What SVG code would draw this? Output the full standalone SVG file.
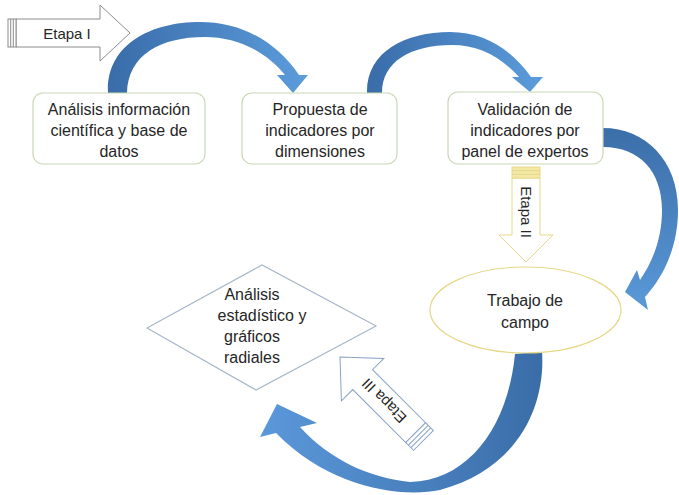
<svg xmlns="http://www.w3.org/2000/svg" width="679" height="495" viewBox="0 0 679 495">
<defs>
<linearGradient id="gH" x1="0" y1="0" x2="1" y2="0"><stop offset="0" stop-color="#396ca9"/><stop offset="1" stop-color="#5c9cdb"/></linearGradient>
<linearGradient id="gV" x1="0" y1="0" x2="0" y2="1"><stop offset="0" stop-color="#3b6ea9"/><stop offset="1" stop-color="#5a99d8"/></linearGradient>
<linearGradient id="gR" x1="1" y1="0" x2="0" y2="0"><stop offset="0" stop-color="#3a6da8"/><stop offset="1" stop-color="#5b98da"/></linearGradient>
</defs>
<style>
.box{fill:#fff;stroke:#c9d8b6;stroke-width:1.2}
.t{font-family:"Liberation Sans",Arial,sans-serif;font-size:16px;fill:#262626;text-anchor:middle}
.et{font-family:"Liberation Sans",Arial,sans-serif;font-size:15px;fill:#262626;text-anchor:middle}
.ga{fill:#fff;stroke:#8c8c8c;stroke-width:1}
.ya{fill:#fff;stroke:#e6d88a;stroke-width:1}
.ys{fill:#f3e9a6;stroke:#e6d88a;stroke-width:1}
.ba{fill:#fff;stroke:#8aa3c4;stroke-width:1}
</style>
<rect width="679" height="495" fill="#fff"/>
<g id="connectors">
<path fill="url(#gH)" d="M108,93 C106,45 150,22 200,22 C240,22 275,40 299,75 L308,75 L293,93 L277,75 L285,75 C265,50 235,37 205,37 C160,37 128,55 127,93 Z"/>
<path fill="url(#gH)" d="M367,93 C366,52 405,32 450,32 C485,32 512,50 531,77 L543,77 L530,92 L512,77 L519,77 C500,56 478,45 452,45 C410,45 382,62 382,93 Z"/>
<path fill="url(#gV)" d="M603,128 C645,128 678,160 678,210 C678,245 665,275 645,297 L648,310 L625,292 L637,270 L640,280 C655,258 662,235 662,210 C662,172 640,147 603,147 Z"/>
<path fill="url(#gR)" d="M515,354 L542,351 C546,410 515,470 440,490 C400,498 330,488 276,433 L260,437 L277,404 L317,423 L300,427 C330,460 370,478 410,482 C470,480 508,425 515,354 Z"/>
</g>
<g id="etapa1" transform="translate(130,33)">
<polygon class="ga" points="0,0 -30,-28 -30,-14 -114,-14 -114,14 -30,14 -30,28"/>
<rect class="ga" x="-122" y="-14" width="8" height="28"/>
<line x1="-119.3" y1="-14" x2="-119.3" y2="14" stroke="#8c8c8c"/>
<line x1="-116.7" y1="-14" x2="-116.7" y2="14" stroke="#8c8c8c"/>
<text class="et" x="-63" y="6">Etapa I</text>
</g>
<g id="etapa2" transform="translate(526,262) rotate(90)">
<polygon class="ya" points="0,0 -27,-27 -27,-14 -84,-14 -84,14 -27,14 -27,27"/>
<rect class="ys" x="-95" y="-14" width="11" height="28"/>
<line x1="-91.3" y1="-14" x2="-91.3" y2="14" stroke="#e6d88a"/>
<line x1="-87.7" y1="-14" x2="-87.7" y2="14" stroke="#e6d88a"/>
<text class="et" x="-50" y="5.5">Etapa II</text>
</g>
<g id="etapa3" transform="translate(340,357) rotate(225)">
<polygon class="ba" points="0,0 -32,-30 -32,-14 -107,-14 -107,14 -32,14 -32,30"/>
<rect class="ba" x="-118" y="-14" width="11" height="28"/>
<line x1="-114.3" y1="-14" x2="-114.3" y2="14" stroke="#8aa3c4"/>
<line x1="-110.7" y1="-14" x2="-110.7" y2="14" stroke="#8aa3c4"/>
<text class="et" x="-62" y="5.5">Etapa III</text>
</g>
<g id="n1">
<rect class="box" x="33" y="93" width="172" height="71" rx="10"/>
<text class="t" x="119" y="115">Análisis información</text>
<text class="t" x="119" y="136">científica y base de</text>
<text class="t" x="119" y="157">datos</text>
</g>
<g id="n2">
<rect class="box" x="242" y="93" width="155" height="71" rx="10"/>
<text class="t" x="320" y="115">Propuesta de</text>
<text class="t" x="320" y="136">indicadores por</text>
<text class="t" x="320" y="157">dimensiones</text>
</g>
<g id="n3">
<rect class="box" x="448" y="92" width="155" height="72" rx="10"/>
<text class="t" x="525" y="115">Validación de</text>
<text class="t" x="525" y="136">indicadores por</text>
<text class="t" x="525" y="157">panel de expertos</text>
</g>
<g id="n4">
<ellipse cx="525.5" cy="310" rx="95.5" ry="43" fill="#fff" stroke="#e6d88a" stroke-width="1.2"/>
<text class="t" x="525" y="306">Trabajo de</text>
<text class="t" x="525" y="328">campo</text>
</g>
<g id="n5">
<polygon points="147,328 262,265 376,326 256,390" fill="#fff" stroke="#a9b8c9" stroke-width="1.2"/>
<text class="t" x="252" y="300">Análisis</text>
<text class="t" x="262" y="321">estadístico y</text>
<text class="t" x="252" y="342">gráficos</text>
<text class="t" x="252" y="363">radiales</text>
</g>
</svg>
